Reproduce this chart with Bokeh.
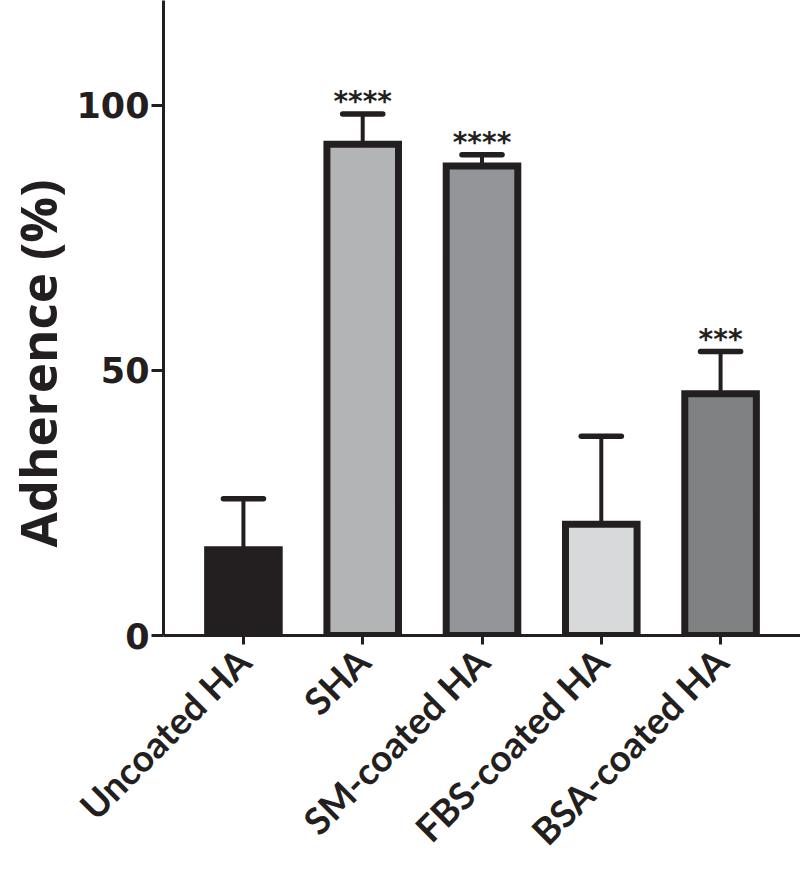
import math
from bokeh.plotting import figure
from bokeh.models import Range1d, FixedTicker, ColumnDataSource, Title
from bokeh.core.properties import value
from bokeh.embed import file_html
from bokeh.resources import INLINE

categories = ["Uncoated HA", "SHA", "SM-coated HA", "FBS-coated HA", "BSA-coated HA"]
means = [16.2, 92.7, 88.6, 21.0, 45.6]
errors = [9.6, 5.7, 2.1, 16.6, 8.0]
stars = ["", "****", "****", "", "***"]
fills = ["#231f20", "#b3b4b6", "#939598", "#d8d9da", "#808183"]
y_ticks = [0, 50, 100]
y_title = "Adherence (%)"

xs = list(range(len(categories)))
tops = [m + e for m, e in zip(means, errors)]
src = ColumnDataSource(dict(x=xs, mean=means, top=tops, fill=fills, star=stars,
                            cl=[x - 0.168 for x in xs], cr=[x + 0.168 for x in xs]))

ink = "#231f20"
p = figure(width=800, height=872, output_backend="svg", toolbar_location=None,
           x_range=Range1d(-0.67, 4.67), y_range=Range1d(0, 119.8),
           min_border_left=163, min_border_top=0, min_border_bottom=237, min_border_right=0)
p.outline_line_color = None
p.grid.visible = False

p.vbar(x="x", top="mean", bottom=0, width=0.6, source=src, fill_color="fill",
       line_color=ink, line_width=7, line_join="miter")
p.segment(x0="x", y0="mean", x1="x", y1="top", source=src, line_color=ink, line_width=4)
p.segment(x0="cl", y0="top", x1="cr", y1="top", source=src, line_color=ink,
          line_width=5.5, line_cap="round")
p.text(x="x", y="top", text="star", source=src, text_align="center",
       text_baseline="alphabetic", y_offset=-12, text_font=value("DejaVu Sans"),
       text_font_style="bold", text_font_size="28px", text_color=ink)

yax = p.yaxis[0]
yax.ticker = FixedTicker(ticks=y_ticks)
yax.axis_line_width = 3
yax.axis_line_color = ink
yax.major_tick_line_width = 3
yax.major_tick_line_color = ink
yax.major_tick_out = 12
yax.major_tick_in = 0
yax.minor_tick_line_color = None
yax.major_label_text_font = "DejaVu Sans"
yax.major_label_text_font_style = "bold"
yax.major_label_text_font_size = "35px"
yax.major_label_text_color = ink
yax.major_label_standoff = 2

p.add_layout(Title(text=y_title, align="left", offset=88, standoff=0,
                   vertical_align="top", text_font="Open Sans", text_font_style="bold",
                   text_font_size="51px", text_color=ink), "left")

xax = p.xaxis[0]
xax.ticker = FixedTicker(ticks=xs)
xax.major_label_overrides = {i: c for i, c in enumerate(categories)}
xax.major_label_orientation = math.pi / 4
xax.axis_line_width = 3
xax.axis_line_color = ink
xax.major_tick_line_width = 3
xax.major_tick_line_color = ink
xax.major_tick_out = 9
xax.major_tick_in = 0
xax.minor_tick_line_color = None
xax.major_label_text_font = "Lato"
xax.major_label_text_font_style = "bold"
xax.major_label_text_font_size = "37px"
xax.major_label_text_color = ink
xax.major_label_standoff = 10

open("out.html", "w").write(file_html(p, INLINE))
